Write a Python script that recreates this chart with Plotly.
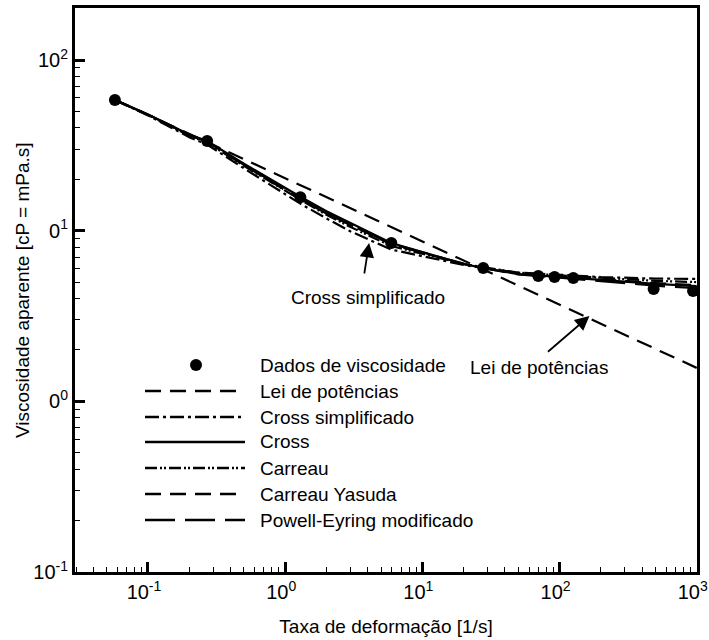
import plotly.graph_objects as go
import math

# ---------------- data ----------------
data_x = [0.0574, 0.27, 1.29, 5.94, 27.8, 70, 92, 126, 485, 940]
data_y = [58.3, 33.5, 15.7, 8.47, 6.04, 5.43, 5.36, 5.28, 4.55, 4.43]

curve_x = [0.0574, 0.1, 0.2, 0.27, 0.5, 1, 1.29, 2, 3, 5.94, 10, 20, 28, 50, 100, 200, 500, 1000]
cross_y = [58.3, 47.9, 36.6, 33.5, 24.7, 17.8, 15.8, 13.0, 11.1, 8.47, 7.5, 6.38, 6.04, 5.57, 5.36, 5.14, 4.88, 4.74]
cross_simpl_y = [58.3, 47.4, 35.3, 32.0, 23.2, 16.3, 14.4, 11.8, 9.9, 7.75, 7.1, 6.3, 6.04, 5.68, 5.52, 5.35, 5.24, 5.22]
carreau_y = [58.3, 47.7, 36.1, 32.8, 24.0, 17.1, 15.2, 12.4, 10.5, 8.13, 7.35, 6.38, 6.10, 5.68, 5.47, 5.29, 5.08, 5.0]
carreau_yasuda_y = [58.3, 47.9, 36.2, 33.2, 24.2, 17.3, 15.3, 12.6, 10.8, 8.3, 7.43, 6.38, 6.04, 5.63, 5.41, 5.19, 4.93, 4.79]
powell_y = [58.3, 47.9, 36.4, 33.2, 24.3, 17.4, 15.5, 12.7, 10.8, 8.39, 7.5, 6.41, 6.04, 5.54, 5.31, 5.06, 4.76, 4.60]

power_x = [0.0574, 1000]
power_y = [58.6, 1.57]

x_tickvals = [0.1, 1, 10, 100, 1000]
x_ticktext = ["10<sup>-1</sup>", "10<sup>0</sup>", "10<sup>1</sup>", "10<sup>2</sup>", "10<sup>3</sup>"]
y_tickvals = [0.1, 1, 10, 100]
y_ticktext = ["10<sup>-1</sup>", "0<sup>0</sup>", "0<sup>1</sup>", "10<sup>2</sup>"]

legend_labels = ["Dados de viscosidade", "Lei de potências", "Cross simplificado", "Cross",
                 "Carreau", "Carreau Yasuda", "Powell-Eyring modificado"]

# ---------------- styles ----------------
FONT = "Liberation Sans, Arial, sans-serif"
LW = 2.2
dash_power = "16px,9px"
dash_cs = "14px,4px,3px,4px"
dash_carreau = "12px,3px,2px,2px,2px,3px"
dash_yasuda = "16px,9px"
dash_powell = "30px,10px"

fig = go.Figure()

def add_line(x, y, dash, name):
    fig.add_trace(go.Scatter(x=x, y=y, mode="lines", name=name, showlegend=False,
                             line=dict(color="black", width=LW, dash=dash)))

add_line(power_x, power_y, dash_power, legend_labels[1])
add_line(curve_x, cross_simpl_y, dash_cs, legend_labels[2])
add_line(curve_x, carreau_y, dash_carreau, legend_labels[4])
add_line(curve_x, carreau_yasuda_y, dash_yasuda, legend_labels[5])
add_line(curve_x, powell_y, dash_powell, legend_labels[6])
add_line(curve_x, cross_y, "solid", legend_labels[3])

fig.add_trace(go.Scatter(x=data_x, y=data_y, mode="markers", name=legend_labels[0],
                         showlegend=False, cliponaxis=False,
                         marker=dict(color="black", size=12, symbol="circle")))

# ---------------- manual legend (paper coords) ----------------
L, R, T, B = 75, 12, 8, 68
W, H = 709, 640
pw, ph = W - L - R, H - T - B

def px2paper_x(px):
    return (px - L) / pw

def px2paper_y(py):
    return (H - B - py) / ph

rows = [365, 391, 417, 442, 468, 494, 520]
dashes = [None, dash_power, dash_cs, "solid", dash_carreau, dash_yasuda, dash_powell]
shapes = []
annotations = []
for lab, ry, d in zip(legend_labels, rows, dashes):
    yp = px2paper_y(ry)
    if d is None:
        shapes.append(dict(type="circle", xref="paper", yref="paper",
                           xsizemode="pixel", ysizemode="pixel",
                           xanchor=px2paper_x(196), yanchor=yp,
                           x0=-6, x1=6, y0=-6, y1=6,
                           fillcolor="black", line=dict(color="black", width=0)))
    else:
        shapes.append(dict(type="line", xref="paper", yref="paper",
                           x0=px2paper_x(145), x1=px2paper_x(245), y0=yp, y1=yp,
                           line=dict(color="black", width=2.6, dash=d)))
    annotations.append(dict(xref="paper", yref="paper", x=px2paper_x(258), y=yp,
                            text=lab, showarrow=False, xanchor="left", yanchor="middle",
                            font=dict(family=FONT, size=19, color="black")))

# ---------------- arrows ----------------
annotations.append(dict(x=math.log10(4.09), y=math.log10(8.47), xref="x", yref="y",
                        text="", showarrow=True, ax=-5, ay=32, arrowhead=2,
                        arrowsize=1.6, arrowwidth=1.8, arrowcolor="black"))
annotations.append(dict(x=0.6045, y=0.606, xref="x", yref="y", text="Cross simplificado",
                        showarrow=False, font=dict(family=FONT, size=19, color="black")))
annotations.append(dict(x=2.218, y=0.500, xref="x", yref="y",
                        text="", showarrow=True, ax=-43, ay=37, arrowhead=2,
                        arrowsize=1.6, arrowwidth=1.8, arrowcolor="black"))
annotations.append(dict(x=1.847, y=0.196, xref="x", yref="y", text="Lei de potências",
                        showarrow=False, font=dict(family=FONT, size=19, color="black")))

# y-axis title placed as rotated annotation
annotations.append(dict(xref="paper", yref="paper", x=px2paper_x(22), y=px2paper_y(290),
                        text="Viscosidade aparente [cP = mPa.s]", textangle=-90,
                        showarrow=False, xanchor="center", yanchor="middle",
                        font=dict(family=FONT, size=19, color="black")))

axis_common = dict(showline=True, linecolor="black", linewidth=3, mirror=True,
                   showgrid=False, zeroline=False, ticks="inside", ticklen=10,
                   tickwidth=3, tickcolor="black", ticklabeloverflow="allow",
                   automargin=False,
                   tickfont=dict(family=FONT, size=20, color="black"),
                   minor=dict(ticks="inside", ticklen=5, tickwidth=1, tickcolor="black",
                              dtick="D1", showgrid=False))

fig.update_layout(
    width=W, height=H,
    margin=dict(l=L, r=R, t=T, b=B),
    paper_bgcolor="white", plot_bgcolor="white",
    font=dict(family=FONT, color="black"),
    shapes=shapes, annotations=annotations,
    xaxis=dict(type="log", range=[-1.532, 3.002], tickvals=x_tickvals, ticktext=x_ticktext,
               ticklabelshift=-4,
               title=dict(text="Taxa de deformação [1/s]", standoff=18,
                          font=dict(family=FONT, size=19, color="black")),
               **axis_common),
    yaxis=dict(type="log", range=[-1.0, 2.305], tickvals=y_tickvals, ticktext=y_ticktext,
               **axis_common),
)

fig.write_html("out.html")
